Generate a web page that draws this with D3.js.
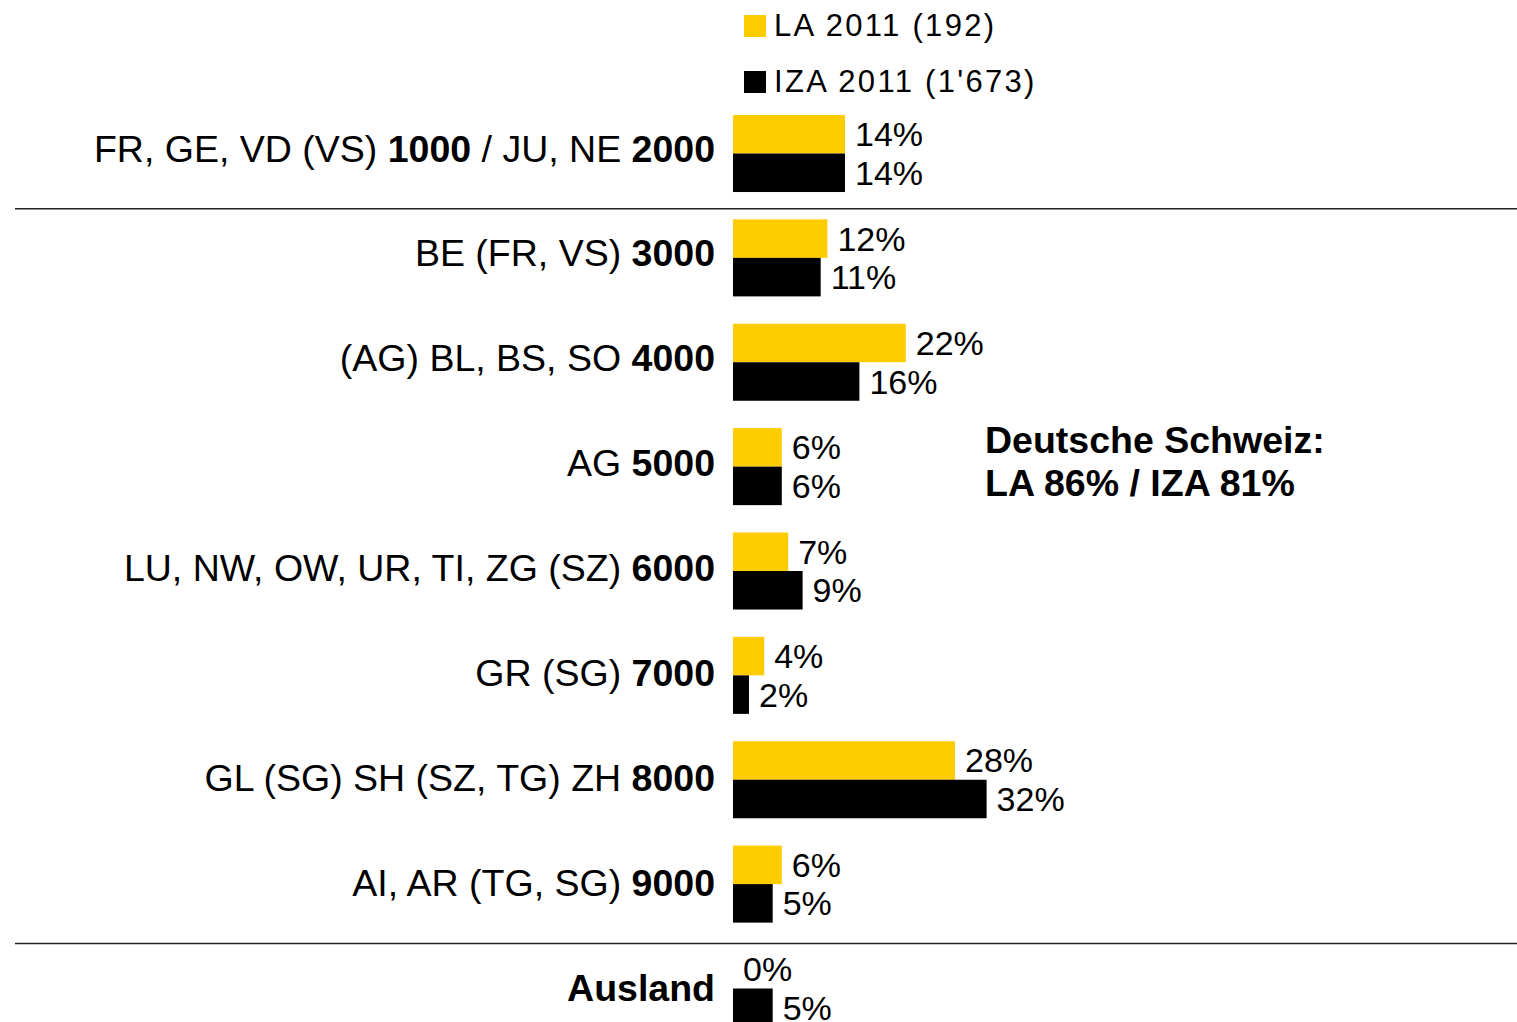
<!DOCTYPE html>
<html>
<head>
    <meta charset="utf-8">
    <title>LA / IZA 2011 nach Postleitzahl-Region</title>
    <style>
        body { margin: 0; background: #fff;
            font-family: "Liberation Sans", Arial, Helvetica, sans-serif; }
        .cat { font-size: 37.5px; fill: #000; }
        .val { font-size: 34px; fill: #000; }
        .lg { font-size: 31px; letter-spacing: 2.3px; fill: #000; }
        .note { font-size: 37.5px; font-weight: bold; fill: #000; }
        .sep { stroke: #222; stroke-width: 1.5px; }
    </style>
    <script src="https://d3js.org/d3.v7.min.js"></script>
</head>
<body>
<svg id="chart"></svg>

<script>
    //categories (** marks bold parts)
    var categories = [
        "FR, GE, VD (VS) **1000** / JU, NE **2000**",
        "BE (FR, VS) **3000**",
        "(AG) BL, BS, SO **4000**",
        "AG **5000**",
        "LU, NW, OW, UR, TI, ZG (SZ) **6000**",
        "GR (SG) **7000**",
        "GL (SG) SH (SZ, TG) ZH **8000**",
        "AI, AR (TG, SG) **9000**",
        "**Ausland**"
    ];
    var seriesNames = ["LA 2011 (192)", "IZA 2011 (1'673)"];
    var seriesColors = ["#ffcc00", "#000000"];
    //shares
    var la  = [0.14, 0.118, 0.216, 0.061, 0.069, 0.039, 0.2775, 0.061, 0];
    var iza = [0.14, 0.1096, 0.158, 0.061, 0.087, 0.02, 0.317, 0.0496, 0.0496];
    //lines drawn above these categories
    var separators = ["BE (FR, VS) **3000**", "**Ausland**"];
    var noteLines = ["Deutsche Schweiz:", "LA 86% / IZA 81%"];

    var width = 1517, height = 1022,
        x0 = 733,
        svg = d3.select("#chart").attr("width", width).attr("height", height),
        fmt = d3.format(".0%");

    var x = d3.scaleLinear().domain([0, 0.35]).range([x0, x0 + 280]);
    var y = d3.scaleBand().domain(categories).range([115, 1027]).paddingInner(0.262).paddingOuter(0);
    var ySub = d3.scaleBand().domain([0, 1]).range([0, y.bandwidth()]);

    var rows = categories.map(function(c, i){ return {cat: c, vals: [la[i], iza[i]]}; });

    //separator lines
    var sepGap = [10.5, 6.5];
    svg.append("g").selectAll("line").data(separators).enter()
        .append("line").attr("class", "sep")
        .attr("x1", 15).attr("x2", width)
        .attr("y1", function(d, i){ return y(d) - sepGap[i]; })
        .attr("y2", function(d, i){ return y(d) - sepGap[i]; });

    //category labels
    var lab = svg.append("g").selectAll("text").data(rows).enter()
        .append("text").attr("class", "cat")
        .attr("x", 715).attr("text-anchor", "end")
        .attr("y", function(d, i){ return y(d.cat) + y.bandwidth() / 2 + 8 + i * 0.6; });
    lab.each(function(d){
        var t = d3.select(this);
        d.cat.split("**").forEach(function(s, i){
            if (!s) return;
            t.append("tspan").text(s).attr("font-weight", i % 2 ? "bold" : null);
        });
    });

    //bars and value labels
    var g = svg.append("g").selectAll("g").data(rows).enter()
        .append("g").attr("transform", function(d){ return "translate(0," + y(d.cat) + ")"; });
    g.selectAll("rect").data(function(d){ return d.vals; }).enter()
        .append("rect")
        .attr("x", x(0))
        .attr("y", function(v, i){ return ySub(i); })
        .attr("width", function(v){ return x(v) - x(0); })
        .attr("height", ySub.bandwidth())
        .attr("fill", function(v, i){ return seriesColors[i]; });
    g.selectAll("text").data(function(d){ return d.vals; }).enter()
        .append("text").attr("class", "val")
        .attr("x", function(v){ return x(v) + 10; })
        .attr("y", function(v, i){ return ySub(i) + ySub.bandwidth() / 2 + 12; })
        .text(function(v){ return fmt(v); });

    //legend
    var lg = svg.append("g").selectAll("g").data(seriesNames).enter()
        .append("g").attr("transform", function(d, i){ return "translate(744," + (15 + i * 56) + ")"; });
    lg.append("rect").attr("width", 22).attr("height", 22)
        .attr("fill", function(d, i){ return seriesColors[i]; });
    lg.append("text").attr("class", "lg").attr("x", 30).attr("y", 21).text(function(d){ return d; });

    //note
    svg.append("g").selectAll("text").data(noteLines).enter()
        .append("text").attr("class", "note")
        .attr("x", 985).attr("y", function(d, i){ return 453 + i * 43; })
        .text(function(d){ return d; });
</script>
</body>
</html>
